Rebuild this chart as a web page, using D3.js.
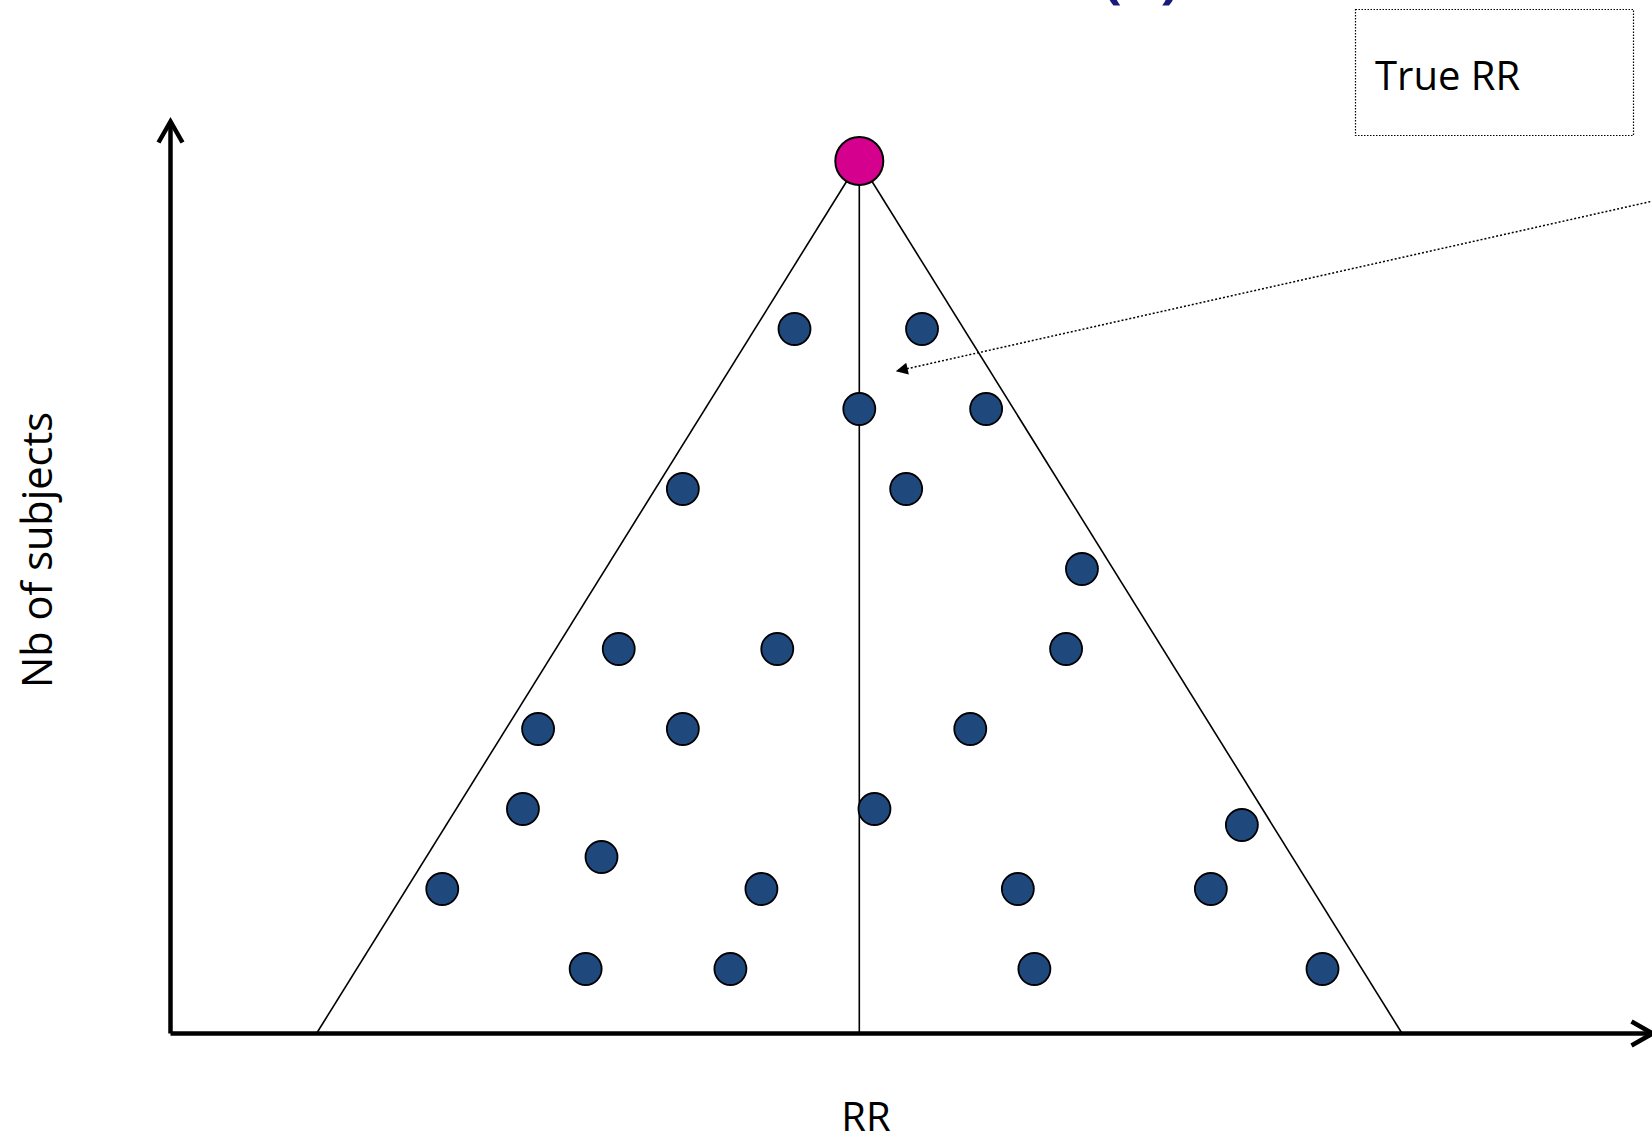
<!DOCTYPE html>
<html>
<head>
<meta charset="utf-8">
<script src="https://cdn.jsdelivr.net/npm/d3@7"></script>
<style>
    body { margin: 0; background: #fff; }
    svg { display: block; }
    .axis path { stroke: #000; stroke-width: 4.5; }
    .lbl { font-family: "Open Sans", sans-serif; font-size: 40px; fill: #000; }
</style>
</head>
<body>
<div id="chart"></div>
<script>

// study estimates (RR) and study size (nb of subjects)
const studyRR = [0.906, 1.091, 1.000, 1.184, 0.744, 1.068, 1.323, 0.651, 0.881, 1.300,
    0.534, 0.744, 1.161, 0.512, 1.022, 1.555, 0.626, 0.395, 0.858, 1.230,
    1.510, 0.603, 0.813, 1.254, 1.672];
const studyN = [900, 900, 800, 800, 700, 700, 600, 500, 500, 500,
    400, 400, 400, 300, 300, 280, 240, 200, 200, 200,
    200, 100, 100, 100, 100];

// true effect, top of the funnel
const trueRR = 1.0;
const trueN = 1110;
// funnel edges at the bottom
const funnelBase = [0.213, 1.787];
const baseN = 20;

const axisLabels = {x: "RR", y: "Nb of subjects"};
const boxLabel = "True RR";
const titleText = "(A)";

let width = 1652, height = 1143;

let svg = d3.select("#chart").append("svg")
    .attr("width", width)
    .attr("height", height);

let x = d3.scaleLinear()
    .domain([0, 2.15])
    .range([170, 1652]);

let y = d3.scaleLinear()
    .domain([baseN, 1160])
    .range([1033, 121]);

// arrow heads (open chevrons)
let defs = svg.append("defs");
defs.append("marker")
    .attr("id", "chev")
    .attr("viewBox", "0 0 30 30")
    .attr("refX", 24).attr("refY", 15)
    .attr("markerWidth", 30).attr("markerHeight", 30)
    .attr("markerUnits", "userSpaceOnUse")
    .attr("orient", "auto")
    .append("path")
    .attr("d", "M3,3 L24,15 L3,27")
    .attr("fill", "none")
    .attr("stroke", "#000")
    .attr("stroke-width", 4.5);

defs.append("marker")
    .attr("id", "tri")
    .attr("viewBox", "0 0 10 10")
    .attr("refX", 9).attr("refY", 5)
    .attr("markerWidth", 16).attr("markerHeight", 12)
    .attr("markerUnits", "userSpaceOnUse")
    .attr("orient", "auto")
    .append("path")
    .attr("d", "M0,0 L10,5 L0,10 Z")
    .attr("fill", "#000");

// title, mostly outside the top of the view
svg.append("text")
    .attr("x", 1103)
    .attr("y", -3)
    .style("font-family", "'Open Sans', sans-serif")
    .style("font-weight", "bold")
    .style("font-size", "56px")
    .style("fill", "#1a1a7a")
    .text(titleText);

// funnel
let funnel = svg.append("g");
funnel.append("line")
    .attr("x1", x(funnelBase[0])).attr("y1", y(baseN))
    .attr("x2", x(trueRR)).attr("y2", y(trueN))
    .attr("stroke", "#000").attr("stroke-width", 1.6);
funnel.append("line")
    .attr("x1", x(funnelBase[1])).attr("y1", y(baseN))
    .attr("x2", x(trueRR)).attr("y2", y(trueN))
    .attr("stroke", "#000").attr("stroke-width", 1.6);
funnel.append("line")
    .attr("x1", x(trueRR)).attr("y1", y(baseN))
    .attr("x2", x(trueRR)).attr("y2", y(trueN))
    .attr("stroke", "#000").attr("stroke-width", 1.6);

// axes, no ticks
let xAxis = d3.axisBottom(x).tickValues([]).tickSizeOuter(0);
let yAxis = d3.axisLeft(y).tickValues([]).tickSizeOuter(0);

svg.append("g")
    .attr("class", "axis x-axis")
    .attr("transform", "translate(0," + y(baseN) + ")")
    .call(xAxis);
svg.append("g")
    .attr("class", "axis y-axis")
    .attr("transform", "translate(" + x(0) + ",0)")
    .call(yAxis);

// both domain paths end at the far end of the range
svg.selectAll(".axis path").attr("marker-end", "url(#chev)");

// studies
svg.selectAll(".study")
    .data(studyRR.map((d, i) => ({rr: d, n: studyN[i]})))
    .enter()
    .append("circle")
    .attr("class", "study")
    .attr("cx", d => x(d.rr))
    .attr("cy", d => y(d.n))
    .attr("r", 16)
    .attr("fill", "#1f497d")
    .attr("stroke", "#000")
    .attr("stroke-width", 1.8);

// true RR
svg.append("circle")
    .attr("cx", x(trueRR))
    .attr("cy", y(trueN))
    .attr("r", 24)
    .attr("fill", "#d6008f")
    .attr("stroke", "#000")
    .attr("stroke-width", 2);

// labels
svg.append("text")
    .attr("class", "lbl")
    .attr("text-anchor", "middle")
    .attr("x", 866)
    .attr("y", 1131)
    .text(axisLabels.x);

svg.append("text")
    .attr("class", "lbl")
    .attr("text-anchor", "middle")
    .style("font-size", "41.5px")
    .attr("transform", "translate(52,550) rotate(-90)")
    .text(axisLabels.y);

// callout box
svg.append("rect")
    .attr("x", 1355.5).attr("y", 9.5)
    .attr("width", 278).attr("height", 126)
    .attr("fill", "none")
    .attr("stroke", "#000")
    .attr("stroke-width", 1.2)
    .attr("stroke-dasharray", "1.5,1.5");

svg.append("text")
    .attr("class", "lbl")
    .attr("x", 1375)
    .attr("y", 90)
    .text(boxLabel);

svg.append("line")
    .attr("x1", 1662).attr("y1", 199)
    .attr("x2", 897).attr("y2", 371)
    .attr("stroke", "#000")
    .attr("stroke-width", 1.5)
    .attr("stroke-dasharray", "2,2")
    .attr("marker-end", "url(#tri)");

</script>
</body>
</html>
